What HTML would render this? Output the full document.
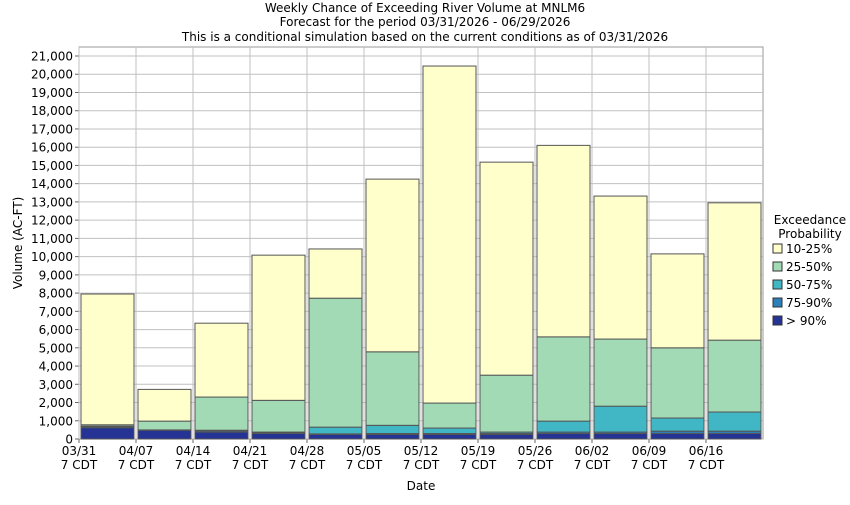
<!DOCTYPE html><html><head><style>body{margin:0;background:#fff}svg{font-family:"DejaVu Sans","Liberation Sans",sans-serif}</style></head><body>
<svg id="s" width="850" height="500" xmlns="http://www.w3.org/2000/svg"></svg>
<script>
const s=document.getElementById('s');let h='';
const L=79,R=763,B=439,T=47,k=(439-56)/21000;
const y=v=>B-v*k;
h+='<g font-size="12" fill="#000" text-anchor="middle"><text x="425" y="12">Weekly Chance of Exceeding River Volume at MNLM6</text><text x="425" y="26">Forecast for the period 03/31/2026 - 06/29/2026</text><text x="425" y="41">This is a conditional simulation based on the current conditions as of 03/31/2026</text></g>';
h+=`<rect x="${L}" y="${T}" width="${R-L}" height="${B-T}" fill="#fff" stroke="#999"/>`;
const w=(R-L)/12;
for(let i=0;i<=21;i++){const yy=y(i*1000);h+=`<line x1="${L}" x2="${R}" y1="${yy}" y2="${yy}" stroke="#c0c0c0"/><line x1="${L-4}" x2="${L}" y1="${yy}" y2="${yy}" stroke="#666"/><text x="${L-6}" y="${yy+4.5}" font-size="12" text-anchor="end">${(i*1000).toLocaleString('en-US')}</text>`;}
const d=['03/31','04/07','04/14','04/21','04/28','05/05','05/12','05/19','05/26','06/02','06/09','06/16'];
for(let i=0;i<12;i++){const x=L+i*w;h+=`<line x1="${x}" x2="${x}" y1="${T}" y2="${B}" stroke="#c0c0c0"/><line x1="${x}" x2="${x}" y1="${B}" y2="${B+4}" stroke="#666"/><text x="${x}" y="${B+16}" font-size="12" text-anchor="middle">${d[i]}</text><text x="${x}" y="${B+30}" font-size="12" text-anchor="middle">7 CDT</text>`;}
const v=[[620,680,700,780,7950],[480,500,500,980,2720],[380,450,480,2300,6350],[300,360,380,2120,10080],[250,280,650,7720,10420],[250,300,750,4780,14250],[250,300,600,1970,20450],[250,300,380,3500,15180],[300,380,980,5600,16100],[300,380,1800,5480,13320],[300,430,1150,5000,10150],[300,430,1480,5420,12950]];
const c=['#253494','#2c7fb8','#41b6c4','#a1dab4','#ffffcc'];
for(let i=0;i<12;i++){const x=L+i*w+2,bw=w-4;let p=0;for(let j=0;j<5;j++){const t=v[i][j];h+=`<rect x="${x}" y="${y(t)}" width="${bw}" height="${y(p)-y(t)}" fill="${c[j]}" stroke="#555" stroke-width="1"/>`;p=t;}}
h+=`<text x="421" y="490" font-size="12" text-anchor="middle">Date</text><text transform="translate(22,243) rotate(-90)" font-size="12" text-anchor="middle">Volume (AC-FT)</text>`;
h+=`<text x="810" y="224" font-size="12" text-anchor="middle">Exceedance</text><text x="810" y="238" font-size="12" text-anchor="middle">Probability</text>`;
const lb=['10-25%','25-50%','50-75%','75-90%','> 90%'];
for(let j=0;j<5;j++){const yy=244+j*18;h+=`<rect x="773" y="${yy}" width="9" height="9" fill="${c[4-j]}" stroke="#333"/><text x="786" y="${yy+9}" font-size="12">${lb[j]}</text>`;}
s.innerHTML=h;
</script></body></html>
